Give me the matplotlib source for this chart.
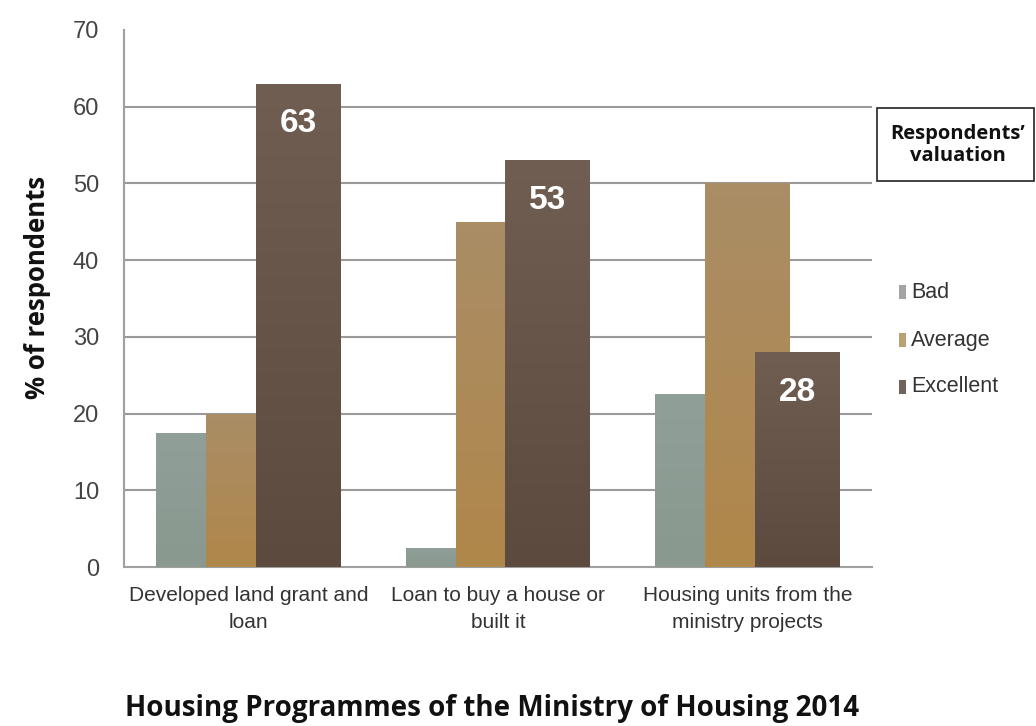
import matplotlib
matplotlib.use("Agg")
import matplotlib.pyplot as plt
from matplotlib import font_manager
from matplotlib.patches import Rectangle
from matplotlib.colors import LinearSegmentedColormap
import numpy as np

# Survey data: share of respondents rating each housing programme
programmes = ["Developed land grant and\nloan", "Loan to buy a house or\nbuilt it",
              "Housing units from the\nministry projects"]
ratings = ["Bad", "Average", "Excellent"]
bad = [17.5, 2.5, 22.5]
average = [20, 45, 50]
excellent = [63, 53, 28]
y_ticks = [0, 10, 20, 30, 40, 50, 60, 70]

# (top, bottom) shades for each rating's bars
bar_shades = [("#909f98", "#89998f"), ("#aa8d66", "#b0874a"), ("#705e53", "#5d4a3e")]
legend_colors = ["#a4a4a4", "#b9a173", "#6f625b"]

available = {f.name for f in font_manager.fontManager.ttflist}
narrow = "Liberation Sans Narrow" in available
tick_family = ["Liberation Sans Narrow", "Liberation Sans", "DejaVu Sans"] if narrow else ["Liberation Sans", "DejaVu Sans"]
bold_family = ["Open Sans", "DejaVu Sans"]

fig = plt.figure(figsize=(10.36, 7.26), dpi=100)
ax = fig.add_axes([0.1197, 0.219, 0.722, 0.7397])

x = np.arange(len(programmes))
offsets = [-0.2, 0.0, 0.2]
width = 0.34
series = [bad, average, excellent]
ax.set_xlim(-0.5, 2.5)
ax.set_ylim(0, 70)

gradient = np.linspace(0, 1, 256).reshape(-1, 1)
for i, (vals, (top, bottom)) in enumerate(zip(series, bar_shades)):
    bars = ax.bar(x + offsets[i], vals, width=width, color=top, zorder=3 + i, linewidth=0)
    cmap = LinearSegmentedColormap.from_list(f"shade{i}", [bottom, top])
    for b in bars:
        x0, y0 = b.get_x(), b.get_y()
        im = ax.imshow(gradient, cmap=cmap, aspect="auto", origin="lower",
                       extent=(x0, x0 + b.get_width(), y0, y0 + b.get_height()),
                       zorder=3 + i, interpolation="bicubic")
        im.set_clip_path(b)

# value labels inside the Excellent bars
for xi, v in zip(x, excellent):
    ax.text(xi + offsets[2], v - 5.2, f"{v:g}", ha="center", va="center",
            color="white", fontsize=24, fontweight="bold",
            family=tick_family, zorder=10)

ax.set_xlim(-0.5, 2.5)
ax.set_ylim(0, 70)
ax.set_yticks(y_ticks)
ax.set_yticklabels([str(t) for t in y_ticks], family=tick_family, fontsize=17, color="#444444")
ax.set_xticks(x)
ax.set_xticklabels(programmes, family=tick_family, fontsize=15, color="#333333", linespacing=1.5)
ax.tick_params(axis="both", length=0)
ax.tick_params(axis="y", pad=18)
ax.tick_params(axis="x", pad=14)

for yv in y_ticks[1:-1]:
    ax.axhline(yv, color="#9a9a9a", linewidth=1.5, zorder=1)

for s in ["top", "right"]:
    ax.spines[s].set_visible(False)
for s in ["left", "bottom"]:
    ax.spines[s].set_color("#a0a0a0")
    ax.spines[s].set_linewidth(1.5)

ax.set_ylabel("% of respondents", family=bold_family, fontsize=18.5, fontweight="bold",
              color="#111111")
ax.yaxis.set_label_coords(-0.098, 0.52)

fig.text(0.475, 0.014, "Housing Programmes of the Ministry of Housing 2014",
         family=bold_family, fontsize=20, fontweight="bold", ha="center", va="baseline",
         color="#111111")

# legend title box
box = Rectangle((877 / 1036, 1 - 181 / 726), (1034 - 877) / 1036, (181 - 108) / 726,
                transform=fig.transFigure, fill=False, edgecolor="#222222", linewidth=1.2)
fig.add_artist(box)
fig.text(958 / 1036, 1 - 145 / 726, "Respondents\u2019\nvaluation", ha="center", va="center",
         family=bold_family, fontsize=14.5, fontweight="bold", color="#111111", linespacing=1.1)

# legend entries
for name, col, yp in zip(ratings, legend_colors, [292, 340, 387]):
    fig.add_artist(Rectangle((899 / 1036, 1 - (yp + 7) / 726), 7 / 1036, 14 / 726,
                             transform=fig.transFigure, color=col, linewidth=0))
    fig.text(911 / 1036, 1 - yp / 726, name, ha="left", va="center", family=tick_family,
             fontsize=15.5, color="#333333")

fig.savefig("out.png", dpi=100)
